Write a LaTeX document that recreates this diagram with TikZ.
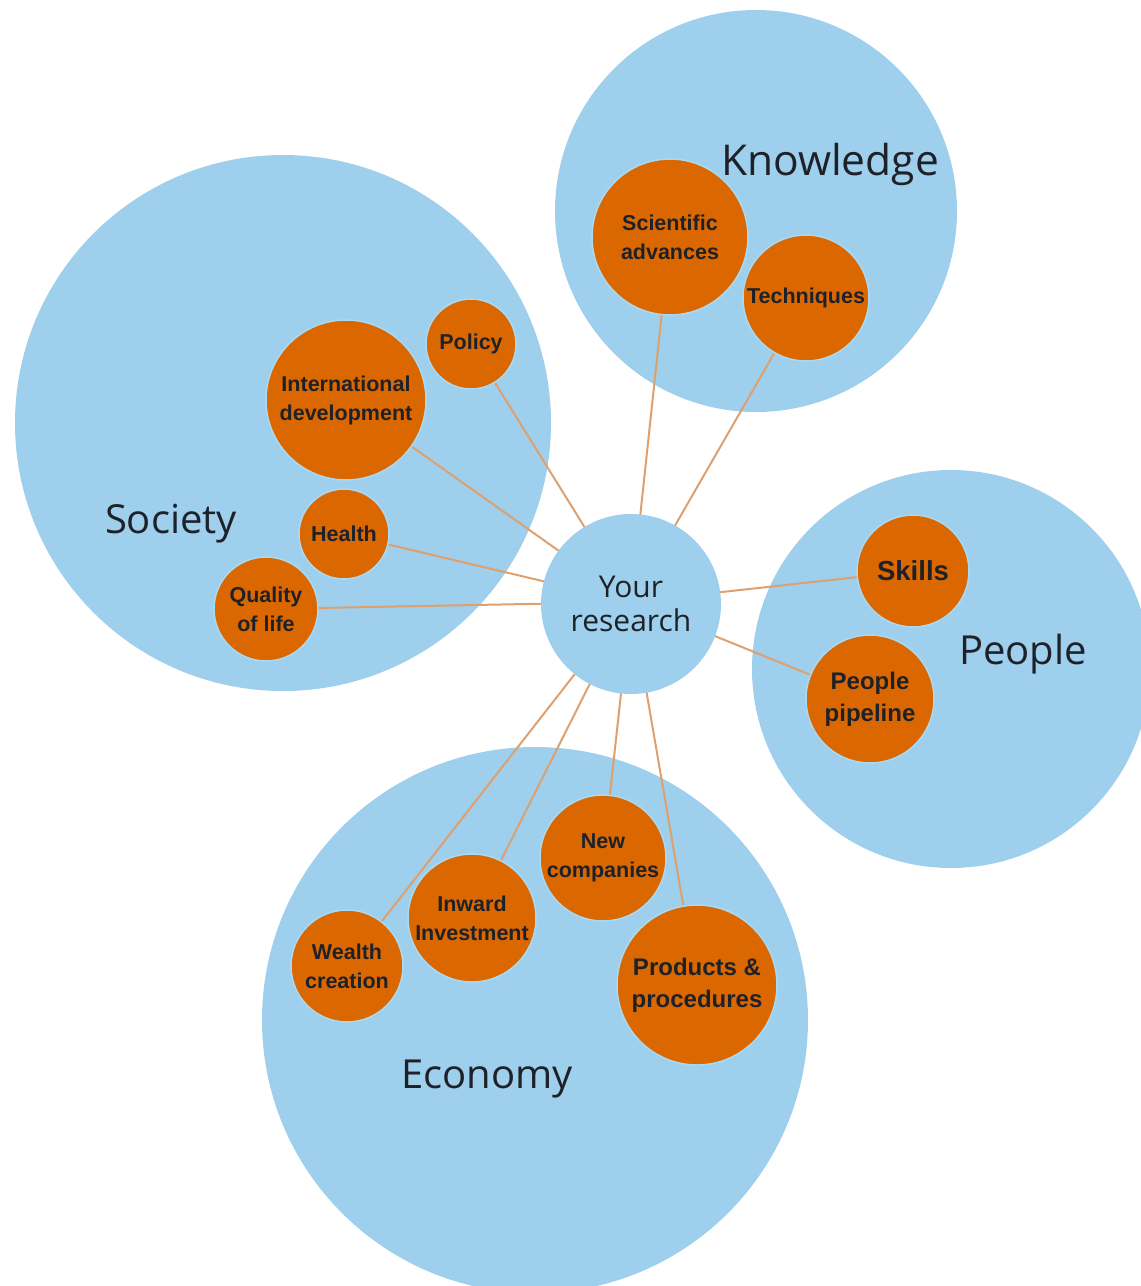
\documentclass[tikz,border=0pt]{standalone}
\usepackage{fontspec}
\newfontfamily\bigf{Open Sans}
\newfontfamily\smallf{Liberation Sans}
\definecolor{bigblue}{RGB}{158,207,236}
\definecolor{ringblue}{RGB}{170,218,242}
\definecolor{orng}{RGB}{219,103,0}
\definecolor{linec}{RGB}{222,160,110}
\definecolor{txt}{RGB}{30,34,40}
\tikzset{
  area/.style={circle, fill=bigblue, inner sep=0pt},
  topic/.style={circle, fill=orng, draw=ringblue, line width=1.5pt, inner sep=0pt, align=center, text=txt, font=\smallf\bfseries\fontsize{21.5}{29}\selectfont},
  topicL/.style={topic, font=\smallf\bfseries\fontsize{24}{32}\selectfont},
  hub/.style={circle, fill=bigblue, inner sep=0pt, align=center, text=txt, font=\bigf\fontsize{30}{34}\selectfont},
  arealabel/.style={text=txt, font=\bigf\fontsize{40}{42}\selectfont, inner sep=0pt},
  conn/.style={draw=linec, line width=2pt}
}
\begin{document}
\begin{tikzpicture}[x=1pt,y=-1pt]
\useasboundingbox (0,0) rectangle (1141,1286);
\clip (0,0) rectangle (1141,1286);
% big areas
\node[area, minimum size=402pt] (know) at (756,211) {};
\node[area, minimum size=536pt] (soc) at (283,423) {};
\node[area, minimum size=398pt] (peop) at (951,669) {};
\node[area, minimum size=546pt] (econ) at (535,1020) {};
\node[arealabel, font=\bigf\fontsize{42.5}{44}\selectfont] (lknow) at (830,164) {Knowledge};
\node[arealabel] (lsoc) at (171,524) {Society};
\node[arealabel] (lpeop) at (1023,654) {People};
\node[arealabel] (lecon) at (487,1079) {Economy};
% coordinates of topic centres
\coordinate (hubc) at (631,602);
\coordinate (c-sci) at (670,237);
\coordinate (c-tech) at (806,298);
\coordinate (c-pol) at (471,344);
\coordinate (c-int) at (346,400);
\coordinate (c-hea) at (344,534);
\coordinate (c-qol) at (266,609);
\coordinate (c-ski) at (913,571);
\coordinate (c-pip) at (870,699);
\coordinate (c-new) at (603,858);
\coordinate (c-inw) at (472,918);
\coordinate (c-wea) at (347,966);
\coordinate (c-pro) at (697,985);
% connectors
\foreach \t in {sci,tech,pol,int,hea,qol,ski,pip,new,inw,wea,pro}
  \draw[conn] (hubc) -- (c-\t);
% hub
\node[hub, minimum size=180pt] (hub) at (631,604) {Your\\research};
% topics
\node[topic, minimum size=156pt] (sci) at (c-sci) {Scientific\\advances};
\node[topic, minimum size=126pt] (tech) at (c-tech) {Techniques};
\node[topic, minimum size=90pt] (pol) at (c-pol) {Policy};
\node[topic, minimum size=160pt] (int) at (c-int) {International\\development};
\node[topic, minimum size=90pt] (hea) at (c-hea) {Health};
\node[topic, minimum size=104pt] (qol) at (c-qol) {Quality\\of life};
\node[topicL, minimum size=112pt, font=\smallf\bfseries\fontsize{27.5}{30}\selectfont] (ski) at (c-ski) {Skills};
\node[topicL, minimum size=128pt] (pip) at (c-pip) {People\\pipeline};
\node[topic, minimum size=126pt] (new) at (c-new) {New\\companies};
\node[topic, minimum size=128pt] (inw) at (c-inw) {Inward\\Investment};
\node[topic, minimum size=112pt] (wea) at (c-wea) {Wealth\\creation};
\node[topicL, minimum size=160pt] (pro) at (c-pro) {Products \&\\procedures};
\end{tikzpicture}
\end{document}
